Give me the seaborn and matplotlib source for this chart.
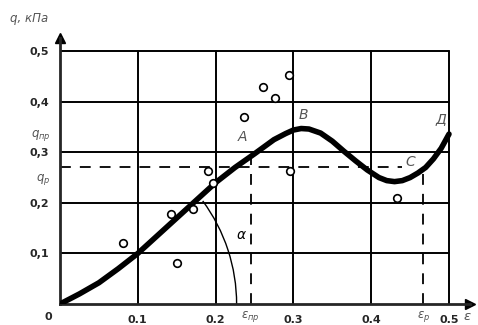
import matplotlib
matplotlib.use('Agg')
import matplotlib.pyplot as plt
from matplotlib.patches import Arc
import seaborn as sns
import pandas as pd

# strain vs stress curve
eps_curve = [0.0, 0.025, 0.05, 0.075, 0.1, 0.125, 0.15, 0.175, 0.2, 0.225, 0.25,
             0.275, 0.29, 0.3, 0.31, 0.32, 0.335, 0.35, 0.365, 0.38, 0.395, 0.41,
             0.42, 0.43, 0.44, 0.45, 0.46, 0.47, 0.48, 0.49, 0.5]
q_curve = [0.0, 0.02, 0.042, 0.07, 0.1, 0.135, 0.17, 0.205, 0.24, 0.27, 0.297,
           0.325, 0.337, 0.344, 0.347, 0.346, 0.338, 0.322, 0.302, 0.283, 0.265, 0.25,
           0.244, 0.242, 0.244, 0.25, 0.259, 0.27, 0.287, 0.308, 0.336]

# measured points (circles)
eps_pts = [0.081, 0.143, 0.150, 0.171, 0.19, 0.197, 0.236, 0.261, 0.276, 0.294, 0.296, 0.433]
q_pts = [0.12, 0.178, 0.081, 0.188, 0.263, 0.24, 0.37, 0.43, 0.407, 0.452, 0.263, 0.21]

x_ticks = [0.1, 0.2, 0.3, 0.4, 0.5]
x_labels = ['0.1', '0.2', '0.3', '0.4', '0.5']
y_ticks = [0.1, 0.2, 0.3, 0.4, 0.5]
y_labels = ['0,1', '0,2', '0,3', '0,4', '0,5']

q_p = 0.27
eps_pr = 0.245
q_at_pr = 0.298
eps_r = 0.467
q_at_r = 0.268

sns.set_style('white')
fig = plt.figure(figsize=(4.78, 3.25), dpi=100)
ax = fig.add_axes([60/478, 21/325, 410/478, 266/325])
ax.set_xlim(0, 0.527)
ax.set_ylim(0, 0.526)

# grid
for v in x_ticks:
    ax.plot([v, v], [0, 0.5], color='black', lw=1.4, zorder=1)
for v in y_ticks:
    ax.plot([0, 0.5], [v, v], color='black', lw=1.4, zorder=1)

# dashed guides
ax.plot([0, 0.44], [q_p, q_p], color='black', lw=1.3, dashes=(6, 5), zorder=1)
ax.plot([eps_pr, eps_pr], [0, q_at_pr], color='black', lw=1.3, dashes=(6, 5), zorder=1)
ax.plot([eps_r, eps_r], [0, q_at_r], color='black', lw=1.3, dashes=(6, 5), zorder=1)

# angle arc
ax.add_patch(Arc((0, 0), 2*0.227, 2*0.346, theta1=0, theta2=48, color='black', lw=1.0))

df = pd.DataFrame({'eps': eps_curve, 'q': q_curve})
sns.lineplot(data=df, x='eps', y='q', ax=ax, color='black', lw=4, zorder=3,
             sort=False, estimator=None)
ax.scatter(eps_pts, q_pts, s=30, facecolor='white', edgecolor='black', lw=1.2, zorder=4)

# spines / axes arrows
for s in ['top', 'right']:
    ax.spines[s].set_visible(False)
ax.spines['left'].set_linewidth(2)
ax.spines['bottom'].set_linewidth(2)
ax.plot(1, 0, '>k', transform=ax.transAxes, clip_on=False, ms=7)
ax.plot(0, 1, '^k', transform=ax.transAxes, clip_on=False, ms=7)

ax.set_xticks(x_ticks)
ax.set_xticklabels(x_labels, fontweight='bold', fontsize=8)
ax.set_yticks(y_ticks)
ax.set_yticklabels(y_labels, fontweight='bold', fontsize=8)
ax.tick_params(axis='both', length=4, width=1.5, color='black', pad=4)
ax.set_xlabel('')
ax.set_ylabel('')

gray = '#555555'
ax.text(-0.01, -0.025, '0', fontsize=8, fontweight='bold', ha='right', va='center')
ax.text(-0.015, 0.565, 'q, кПа', fontsize=8.5, style='italic', color=gray, ha='right', va='center',
        clip_on=False)
ax.text(-0.012, 0.334, r'$q_{пр}$', fontsize=8.5, color=gray, ha='right', va='center')
ax.text(-0.012, 0.247, r'$q_{р}$', fontsize=8.5, color=gray, ha='right', va='center')
ax.text(eps_pr, -0.024, r'$\varepsilon_{пр}$', fontsize=8.5, color=gray, ha='center', va='center')
ax.text(eps_r, -0.024, r'$\varepsilon_{р}$', fontsize=8.5, color=gray, ha='center', va='center')
ax.text(0.523, -0.024, r'$\varepsilon$', fontsize=9.5, color=gray, ha='center', va='center')

ax.text(0.235, 0.33, 'A', fontsize=10, style='italic', color=gray, ha='center', va='center')
ax.text(0.313, 0.374, 'B', fontsize=10, style='italic', color=gray, ha='center', va='center')
ax.text(0.45, 0.28, 'C', fontsize=10, style='italic', color=gray, ha='center', va='center')
ax.text(0.49, 0.366, 'Д', fontsize=10, style='italic', color=gray, ha='center', va='center')
ax.text(0.233, 0.136, r'$\alpha$', fontsize=10, color='black', ha='center', va='center')

fig.savefig('out.png', dpi=100)
